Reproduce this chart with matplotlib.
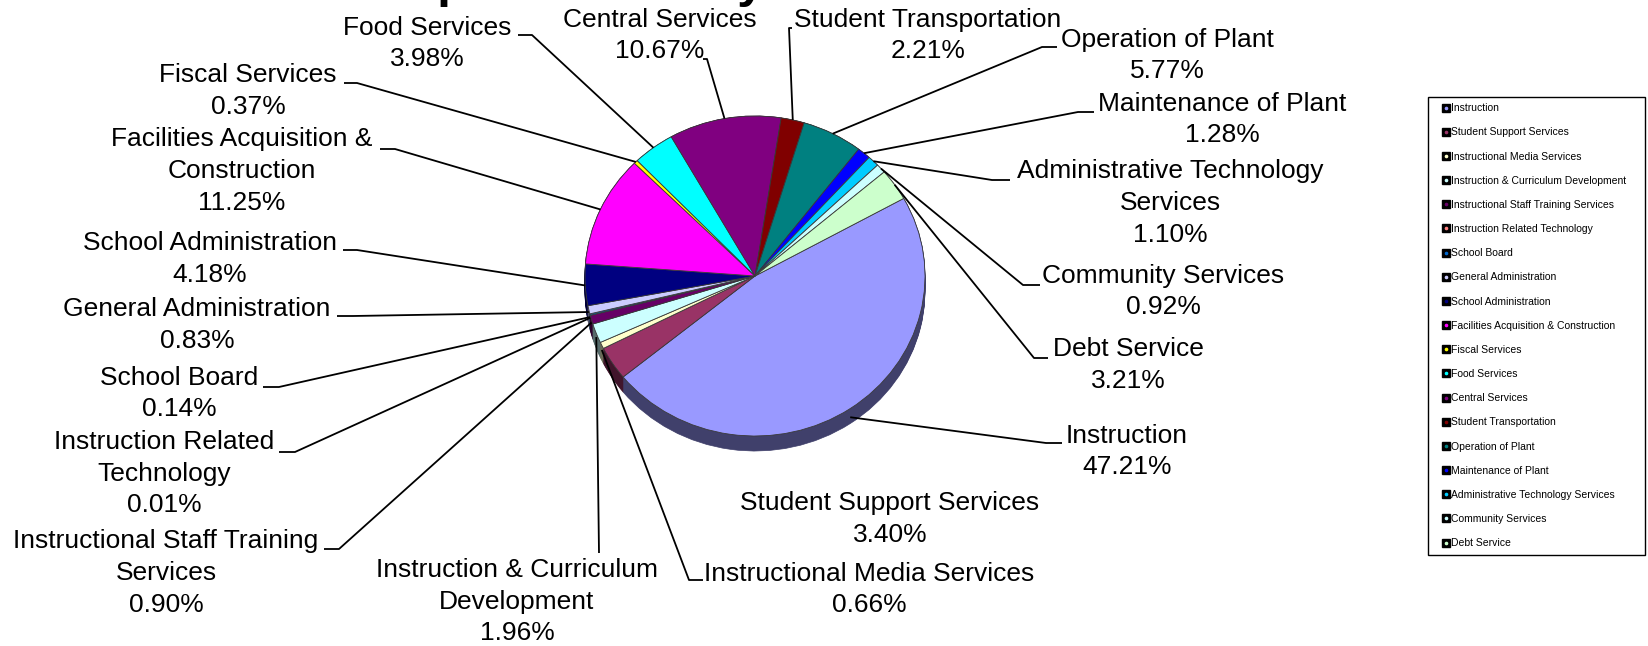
import matplotlib
matplotlib.use("Agg")
import numpy as np
import matplotlib.pyplot as plt
from matplotlib.lines import Line2D
from matplotlib.colors import to_rgb

W, H = 1649, 646

categories = [
    "Instruction", "Student Support Services", "Instructional Media Services",
    "Instruction & Curriculum Development", "Instructional Staff Training Services",
    "Instruction Related Technology", "School Board", "General Administration",
    "School Administration", "Facilities Acquisition & Construction", "Fiscal Services",
    "Food Services", "Central Services", "Student Transportation", "Operation of Plant",
    "Maintenance of Plant", "Administrative Technology Services", "Community Services",
    "Debt Service",
]
shares = [47.21, 3.40, 0.66, 1.96, 0.90, 0.01, 0.14, 0.83, 4.18, 11.25,
          0.37, 3.98, 10.67, 2.21, 5.77, 1.28, 1.10, 0.92, 3.21]

# same names, wrapped the way the callouts break them
callout_names = [
    "Instruction", "Student Support Services", "Instructional Media Services",
    "Instruction & Curriculum\nDevelopment", "Instructional Staff Training\nServices",
    "Instruction Related\nTechnology", "School Board", "General Administration",
    "School Administration", "Facilities Acquisition &\nConstruction", "Fiscal Services",
    "Food Services", "Central Services", "Student Transportation", "Operation of Plant",
    "Maintenance of Plant", "Administrative Technology\nServices", "Community Services",
    "Debt Service",
]

pie_colors = ["#9999FF", "#993366", "#FFFFCC", "#CCFFFF", "#660066", "#FF8080",
              "#0066CC", "#CCCCFF", "#000080", "#FF00FF", "#FFFF00", "#00FFFF",
              "#800080", "#800000", "#008080", "#0000FF", "#00CCFF", "#CCFFFF",
              "#CCFFCC"]

# callout placement in pixels: text centre x, first line centre y,
# leader stub (x next to pie, x next to text, y) or None
callouts = [
    (1127, 435, (1046, 1062, 443)),
    (890, 502, None),
    (869, 573, (689, 703, 580)),
    (517, 571, (599, 599, 553)),
    (166, 542, (339, 324, 549)),
    (164, 443, (295, 279, 452)),
    (179, 377, (279, 263, 387)),
    (197, 308, (353, 337, 316)),
    (210, 242, (357, 343, 250)),
    (242, 140, (395, 380, 149)),
    (248, 74, (357, 344, 83)),
    (427, 27, (532, 518, 35)),
    (660, 19, (707, 703, 59)),
    (928, 19, (789, 792, 28)),
    (1167, 39, (1042, 1057, 47)),
    (1222, 103, (1078, 1094, 112)),
    (1170, 172, (992, 1010, 180)),
    (1163, 275, (1023, 1040, 285)),
    (1128, 348, (1034, 1048, 358)),
]

FONT = "Liberation Sans"
LINE_STEP = 30  # pixels between callout lines

fig = plt.figure(figsize=(W / 100, H / 100), dpi=100)
fig.patch.set_facecolor("white")

# tilted pie: ellipse rx x ry, with a side band of `depth` pixels
cx0, cy0, rx, ry, depth = 755, 276, 170, 160, 15
xlo, xhi, ylo, yhi = -1.1, 1.1, -1.2, 1.1
pie_ax = fig.add_axes([(cx0 + xlo * rx) / W, (H - (cy0 - ylo * ry)) / H,
                       (xhi - xlo) * rx / W, (yhi - ylo) * ry / H])

side_colors = [tuple(0.42 * v for v in to_rgb(c)) for c in pie_colors]
dz = depth / ry
n_layers = 16
for k in range(n_layers):
    off = dz * (1 - k / (n_layers - 1))
    side, _ = pie_ax.pie(shares, colors=side_colors, startangle=29, counterclock=False,
                         center=(0, -off), wedgeprops=dict(linewidth=0.5))
    for sw, sc in zip(side, side_colors):
        sw.set_edgecolor(sc)
wedges, _ = pie_ax.pie(shares, colors=pie_colors, startangle=29, counterclock=False,
                       wedgeprops=dict(edgecolor="#3a3a3a", linewidth=0.6))
pie_ax.set_aspect("auto")
pie_ax.set_xlim(xlo, xhi)
pie_ax.set_ylim(ylo, yhi)
pie_ax.axis("off")

# overlay in pixel units for callouts, legend and title
ov = fig.add_axes([0, 0, 1, 1], zorder=3)
ov.set_xlim(0, W)
ov.set_ylim(H, 0)
ov.axis("off")
ov.patch.set_visible(False)

to_ov = ov.transData.inverted()
for w, name, share, (tx, ty, stub) in zip(wedges, callout_names, shares, callouts):
    n_lines = name.count("\n") + 2
    # baseline alignment on a multi-line text goes by its last line
    ov.text(tx, ty + 9.5 + (n_lines - 1) * LINE_STEP, f"{name}\n{share:.2f}%",
            ha="center", va="baseline", multialignment="center", fontsize=19,
            family=FONT, linespacing=1.42, color="black")
    if stub is None:
        continue
    t = np.deg2rad((w.theta1 + w.theta2) / 2)
    px, py = to_ov.transform(pie_ax.transData.transform((np.cos(t), np.sin(t))))
    if np.sin(t) < 0:
        py += 0.7 * depth * (-np.sin(t))
    ov.plot([px, stub[0], stub[1]], [py, stub[2], stub[2]], color="black",
            lw=1.3, solid_capstyle="butt")

ov.text(376, -3, "Expenditures by Function", fontsize=36, fontweight="bold",
        family=FONT, ha="left", va="baseline")

handles = [(Line2D([], [], ls="", marker="s", ms=5.5, mfc="black", mec="black"),
            Line2D([], [], ls="", marker="o", ms=1.6, mfc=c, mec=c))
           for c in pie_colors]
leg_left, leg_top, leg_w, leg_h = 1428, 97, 217, 459
leg = ov.legend(handles, categories, loc="upper left", mode="expand",
                bbox_to_anchor=(leg_left / W, 1 - (leg_top + leg_h) / H,
                                leg_w / W, leg_h / H),
                bbox_transform=fig.transFigure,
                prop={"family": FONT, "size": 7.5}, frameon=True, fancybox=False,
                edgecolor="black", framealpha=1, borderpad=0.6, labelspacing=1.36,
                handlelength=2.2, handletextpad=-0.6, borderaxespad=0)
leg.get_frame().set_linewidth(1.0)

fig.savefig("out.png", dpi=100)
